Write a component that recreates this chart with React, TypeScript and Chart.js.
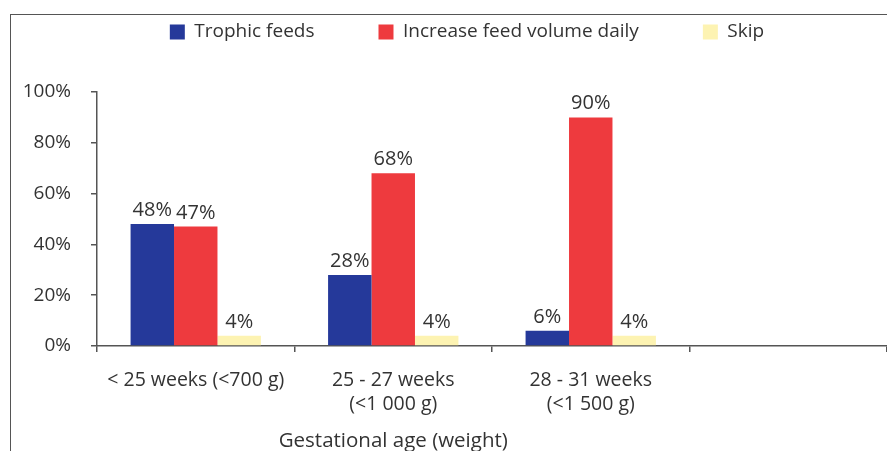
import React, { useEffect, useRef } from "react";
import { Chart, registerables } from "chart.js";

Chart.register(...registerables);

// ---- data ----
const categories: (string | string[])[] = [
  ["< 25 weeks (<700 g)"],
  ["25 - 27 weeks", "(<1 000 g)"],
  ["28 - 31 weeks", "(<1 500 g)"],
  "",
];
const seriesNames = ["Trophic feeds", "Increase feed volume daily", "Skip"];
const trophicFeeds = [48, 28, 6, null];
const increaseFeedVolumeDaily = [47, 68, 90, null];
const skip = [4, 4, 4, null];
const yTickValues = [0, 20, 40, 60, 80, 100];
const xAxisTitle = "Gestational age (weight)";

// ---- style ----
const FONT = "'Open Sans', 'DejaVu Sans', sans-serif";
const TEXT = "#333333";
const AXIS = "#555555";
const COLORS = ["#25399a", "#ee3a3e", "#fdf3b2"];

const valueLabels = {
  id: "valueLabels",
  afterDatasetsDraw(chart: any) {
    const ctx = chart.ctx;
    ctx.save();
    ctx.font = `20px ${FONT}`;
    ctx.fillStyle = TEXT;
    ctx.textAlign = "center";
    ctx.textBaseline = "alphabetic";
    chart.data.datasets.forEach((ds: any, di: number) => {
      const meta = chart.getDatasetMeta(di);
      meta.data.forEach((bar: any, i: number) => {
        const v = ds.data[i];
        if (v === null || v === undefined) return;
        ctx.fillText(v + "%", bar.x, bar.y - 8);
      });
    });
    ctx.restore();
  },
};

const axisTitle = {
  id: "axisTitle",
  afterDraw(chart: any) {
    const ctx = chart.ctx;
    const x = chart.scales.x;
    const cx = (x.getPixelForValue(0) + x.getPixelForValue(2)) / 2;
    ctx.save();
    ctx.font = `20.5px ${FONT}`;
    ctx.fillStyle = TEXT;
    ctx.textAlign = "center";
    ctx.textBaseline = "middle";
    ctx.fillText(xAxisTitle, cx, chart.chartArea.bottom + 95);
    ctx.restore();
  },
};

const LEGEND_PAD = 64;
const LEGEND_FONT = 19;
const legendLayout = {
  id: "legendLayout",
  beforeUpdate(chart: any) {
    const lg = chart.legend;
    if (lg && !lg.__patched) {
      const orig = lg.fit;
      lg.fit = function (this: any) {
        orig.call(this);
        this.height = 92;
      };
      lg.__patched = true;
    }
  },
  afterLayout(chart: any) {
    const lg = chart.legend;
    if (!lg) return;
    const shift = 467 - (lg.left + lg.right) / 2;
    lg.left += shift;
    lg.right += shift;
    const h = lg.height;
    lg.top = 32 - LEGEND_FONT / 2 - LEGEND_PAD;
    lg.bottom = lg.top + h;
  },
};

export default function App() {
  const ref = useRef<HTMLCanvasElement | null>(null);

  useEffect(() => {
    document.body.style.margin = "0";
    if (!ref.current) return;
    const chart = new Chart(ref.current, {
      type: "bar",
      data: {
        labels: categories,
        datasets: [
          { label: seriesNames[0], data: trophicFeeds, backgroundColor: COLORS[0] },
          { label: seriesNames[1], data: increaseFeedVolumeDaily, backgroundColor: COLORS[1] },
          { label: seriesNames[2], data: skip, backgroundColor: COLORS[2] },
        ],
      },
      options: {
        responsive: false,
        animation: false,
        events: [],
        layout: { padding: { top: 0, left: 0, right: 0, bottom: 0 } },
        datasets: {
          bar: { categoryPercentage: 0.66, barPercentage: 1.0 },
        },
        plugins: {
          legend: {
            position: "top",
            labels: {
              boxWidth: 15,
              boxHeight: 15,
              padding: LEGEND_PAD,
              color: TEXT,
              font: { family: FONT, size: LEGEND_FONT },
            },
          },
          tooltip: { enabled: false },
          title: { display: false },
        },
        scales: {
          x: {
            afterFit(scale: any) {
              scale.height = 105;
            },
            grid: {
              display: true,
              offset: true,
              drawOnChartArea: false,
              drawTicks: true,
              tickLength: 6,
              color: AXIS,
              lineWidth: 1.5,
            },
            border: { display: true, color: AXIS, width: 1.5 },
            ticks: {
              color: TEXT,
              font: { family: FONT, size: 19.5, lineHeight: 1.25 },
              padding: 16,
              maxRotation: 0,
              autoSkip: false,
            },
          },
          y: {
            min: 0,
            max: 100,
            afterFit(scale: any) {
              scale.width = 97;
            },
            afterBuildTicks(scale: any) {
              scale.ticks = yTickValues.map((v) => ({ value: v }));
            },
            grid: {
              display: true,
              drawOnChartArea: false,
              drawTicks: true,
              tickLength: 6,
              color: AXIS,
              lineWidth: 1.5,
            },
            border: { display: true, color: AXIS, width: 1.5 },
            ticks: {
              color: TEXT,
              font: { family: FONT, size: 19 },
              padding: 20,
              callback: (v: any) => v + "%",
            },
          },
        },
      },
      plugins: [valueLabels, axisTitle, legendLayout],
    });
    return () => chart.destroy();
  }, []);

  return (
    <div style={{ position: "relative", width: 887, height: 451, background: "#fff", overflow: "hidden" }}>
      <canvas ref={ref} width={887} height={451} style={{ display: "block" }} />
      <div
        style={{
          position: "absolute",
          left: 10,
          top: 14,
          right: -2,
          bottom: -2,
          borderLeft: "1.5px solid #555",
          borderTop: "1.5px solid #555",
          pointerEvents: "none",
        }}
      />
    </div>
  );
}
